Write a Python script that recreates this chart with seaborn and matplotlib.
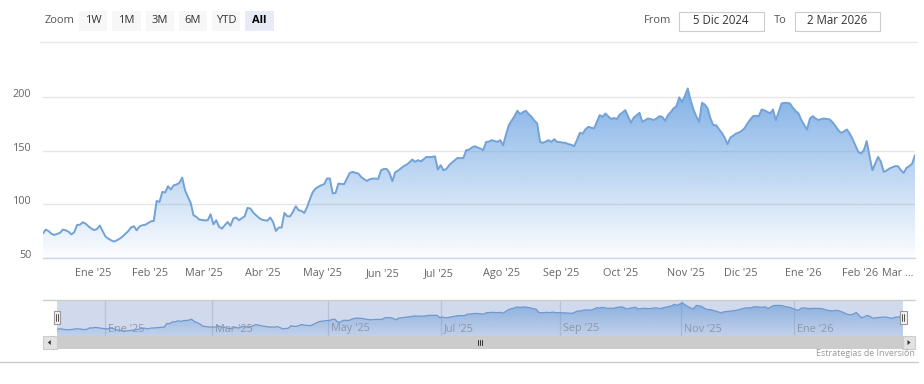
import numpy as np
import pandas as pd
import matplotlib
matplotlib.use("Agg")
import matplotlib.pyplot as plt
import seaborn as sns
from matplotlib.patches import Rectangle, Polygon
from matplotlib.lines import Line2D
from matplotlib.transforms import ScaledTranslation

# ---------------- data ----------------
fechas = [
    "2024-12-05", "2024-12-06", "2024-12-09", "2024-12-10", "2024-12-11", "2024-12-13", "2024-12-16",
    "2024-12-17", "2024-12-18", "2024-12-19", "2024-12-20", "2024-12-23", "2024-12-24", "2024-12-26",
    "2024-12-27", "2024-12-30", "2024-12-31",
    "2025-01-02", "2025-01-03", "2025-01-06", "2025-01-07", "2025-01-08", "2025-01-10", "2025-01-13",
    "2025-01-14", "2025-01-15", "2025-01-16", "2025-01-17", "2025-01-21", "2025-01-22", "2025-01-23",
    "2025-01-24", "2025-01-27", "2025-01-28", "2025-01-29", "2025-01-30", "2025-01-31",
    "2025-02-03", "2025-02-04", "2025-02-05", "2025-02-06", "2025-02-07", "2025-02-10", "2025-02-11",
    "2025-02-12", "2025-02-13", "2025-02-14", "2025-02-18", "2025-02-19", "2025-02-20", "2025-02-21",
    "2025-02-24", "2025-02-25", "2025-02-26", "2025-02-27", "2025-02-28",
    "2025-03-03", "2025-03-04", "2025-03-05", "2025-03-06", "2025-03-07", "2025-03-10", "2025-03-11",
    "2025-03-12", "2025-03-13", "2025-03-14", "2025-03-17", "2025-03-18", "2025-03-19", "2025-03-20",
    "2025-03-21", "2025-03-24", "2025-03-25", "2025-03-26", "2025-03-27", "2025-03-28", "2025-03-31",
    "2025-04-01", "2025-04-02", "2025-04-03", "2025-04-04", "2025-04-07", "2025-04-08", "2025-04-09",
    "2025-04-10", "2025-04-11", "2025-04-14", "2025-04-15", "2025-04-16", "2025-04-17", "2025-04-21",
    "2025-04-22", "2025-04-23", "2025-04-24", "2025-04-25", "2025-04-28", "2025-04-29", "2025-04-30",
    "2025-05-01", "2025-05-02", "2025-05-05", "2025-05-06", "2025-05-07", "2025-05-08", "2025-05-09",
    "2025-05-12", "2025-05-13", "2025-05-14", "2025-05-15", "2025-05-16", "2025-05-19", "2025-05-20",
    "2025-05-21", "2025-05-22", "2025-05-23", "2025-05-27", "2025-05-28", "2025-05-29", "2025-05-30",
    "2025-06-02", "2025-06-03", "2025-06-04", "2025-06-05", "2025-06-06", "2025-06-09", "2025-06-10",
    "2025-06-11", "2025-06-12", "2025-06-13", "2025-06-16", "2025-06-17", "2025-06-18", "2025-06-20",
    "2025-06-23", "2025-06-24", "2025-06-25", "2025-06-26", "2025-06-27", "2025-06-30",
    "2025-07-01", "2025-07-02", "2025-07-03", "2025-07-07", "2025-07-08", "2025-07-09", "2025-07-10",
    "2025-07-11", "2025-07-14", "2025-07-15", "2025-07-16", "2025-07-17", "2025-07-18", "2025-07-21",
    "2025-07-22", "2025-07-23", "2025-07-24", "2025-07-25", "2025-07-28", "2025-07-29", "2025-07-30",
    "2025-07-31",
    "2025-08-01", "2025-08-04", "2025-08-05", "2025-08-06", "2025-08-07", "2025-08-08", "2025-08-11",
    "2025-08-12", "2025-08-13", "2025-08-14", "2025-08-15", "2025-08-18", "2025-08-19", "2025-08-20",
    "2025-08-21", "2025-08-22", "2025-08-25", "2025-08-26", "2025-08-27", "2025-08-28", "2025-08-29",
    "2025-09-02", "2025-09-03", "2025-09-04", "2025-09-05", "2025-09-08", "2025-09-09", "2025-09-10",
    "2025-09-11", "2025-09-12", "2025-09-15", "2025-09-16", "2025-09-17", "2025-09-18", "2025-09-19",
    "2025-09-22", "2025-09-23", "2025-09-24", "2025-09-25", "2025-09-26", "2025-09-29", "2025-09-30",
    "2025-10-01", "2025-10-02", "2025-10-03", "2025-10-06", "2025-10-07", "2025-10-08", "2025-10-09",
    "2025-10-10", "2025-10-13", "2025-10-14", "2025-10-15", "2025-10-16", "2025-10-17", "2025-10-20",
    "2025-10-21", "2025-10-22", "2025-10-23", "2025-10-24", "2025-10-27", "2025-10-28", "2025-10-29",
    "2025-10-30", "2025-10-31",
    "2025-11-03", "2025-11-04", "2025-11-05", "2025-11-06", "2025-11-07", "2025-11-10", "2025-11-11",
    "2025-11-12", "2025-11-13", "2025-11-14", "2025-11-17", "2025-11-18", "2025-11-19", "2025-11-20",
    "2025-11-21", "2025-11-24", "2025-11-25", "2025-11-26", "2025-11-28",
    "2025-12-01", "2025-12-02", "2025-12-03", "2025-12-04", "2025-12-05", "2025-12-08", "2025-12-09",
    "2025-12-10", "2025-12-11", "2025-12-12", "2025-12-15", "2025-12-16", "2025-12-17", "2025-12-18",
    "2025-12-19", "2025-12-22", "2025-12-23", "2025-12-24", "2025-12-26", "2025-12-29", "2025-12-30",
    "2025-12-31",
    "2026-01-02", "2026-01-05", "2026-01-06", "2026-01-07", "2026-01-08", "2026-01-09", "2026-01-12",
    "2026-01-13", "2026-01-14", "2026-01-15", "2026-01-16", "2026-01-20", "2026-01-21", "2026-01-22",
    "2026-01-23", "2026-01-26", "2026-01-27", "2026-01-28", "2026-01-29", "2026-01-30",
    "2026-02-02", "2026-02-03", "2026-02-04", "2026-02-05", "2026-02-06", "2026-02-09", "2026-02-10",
    "2026-02-11", "2026-02-12", "2026-02-13", "2026-02-17", "2026-02-18", "2026-02-19", "2026-02-20",
    "2026-02-23", "2026-02-24", "2026-02-25", "2026-02-26", "2026-02-27",
    "2026-03-02",
]
precios = [
    73, 76.5, 75, 72.5, 71.5, 73.5, 76.5,
    75.8, 74.5, 72, 74, 80.8, 81, 83.3,
    82, 79.5, 77.5,
    76, 77, 80.3, 75, 70, 68, 66.5,
    65.3, 66.5, 68, 70, 72.5, 75, 78.5,
    79.6, 75.8, 79.5, 80.5, 81, 82.5,
    84.2, 84.5, 103.2, 102.2, 111.6, 111, 116.9,
    113.8, 117.8, 118.5, 120, 125, 113.2, 107,
    101.3, 89.8, 88.3, 85.8, 85.5,
    85, 85.2, 90.8, 81.4, 85.2, 79, 77.4,
    80.5, 83.6, 80, 86.8, 87.7, 85.2, 87,
    88.9, 96.7, 96.1, 92.5, 89.8, 87.5, 85.8,
    85.2, 84.8, 87.7, 83.6, 75.2, 78.4, 78.4,
    92, 88.9, 88.9, 93, 98.2, 94.5, 93.9,
    92, 97.6, 105, 111.6, 114.8, 116.5, 117.8,
    118.8, 124.1, 124.1, 110.1, 110.6, 119.4, 119,
    118.8, 124, 129.3, 130.2, 129.5, 128.7, 125.6,
    123.5, 121.8, 123.4, 124, 124, 123.7, 131.8,
    133, 133, 129.3, 121.6, 130, 131.5, 133.5,
    135.6, 137, 139, 141.8, 139.6, 141.2, 140,
    142, 144.2, 144, 144.2, 144.8, 132.5,
    136.5, 131.8, 133, 136.5, 139, 141.2, 143.3,
    143, 143.3, 150.5, 151, 153, 154.2, 153,
    152, 150.5, 158.2, 158.5, 159.8, 159, 158.2,
    159.8,
    155.1, 165, 173.8, 178, 182.2, 187.2, 184.1,
    186, 187.2, 184, 181.6, 178, 175.4, 158.2,
    157.3, 158.5, 159.8, 158.2, 160.7, 158.2, 158,
    157.5, 157.3, 156.1, 155.5, 154.2, 160, 166.6,
    166, 170, 172.2, 171.5, 170.7, 177, 183.1,
    181.6, 184.7, 182, 179.5, 180.5, 179.5, 183.5,
    185.5, 187.8, 182, 176, 181, 183, 185.3,
    176.9, 178.5, 180, 179.5, 178.5, 180, 182.2,
    181.6, 177.8, 183, 186, 189.4, 191.5, 199.7,
    195.5, 201,
    208, 197.1, 188.4, 182, 176.9, 194.6, 193,
    189.4, 180, 173.8, 173.8, 170, 166.6, 162,
    156.1, 162.3, 164, 166, 167,
    168.5, 171, 175.4, 179, 182.2, 182.5, 182.2,
    188.4, 187.5, 186.2, 184.7, 188.4, 178.5, 186,
    194, 194.6, 194.6, 194, 190, 187, 184.7,
    178.5,
    174, 169.8, 180, 182.2, 180, 178.5, 179.5,
    180, 179.5, 179.1, 176.5, 172.9, 169, 166.6,
    168, 169.8, 166, 161, 155.1, 149,
    147.4, 150.5, 158.9, 145, 131.8, 138, 144.2,
    139.6, 130.2, 131.5, 133.4, 134.5, 135.6, 135.6,
    132, 129.3, 134, 135.6, 138,
    145.8,
]

ticks_meses = ["2025-01-01", "2025-02-01", "2025-03-01", "2025-04-01", "2025-05-01", "2025-06-01",
               "2025-07-01", "2025-08-01", "2025-09-01", "2025-10-01", "2025-11-01", "2025-12-01",
               "2026-01-01", "2026-02-01", "2026-03-01"]
etiquetas_meses = ["Ene '25", "Feb '25", "Mar '25", "Abr '25", "May '25", "Jun '25", "Jul '25",
                   "Ago '25", "Sep '25", "Oct '25", "Nov '25", "Dic '25", "Ene '26", "Feb '26",
                   "Mar \u2026"]
ticks_nav = ["2025-01-01", "2025-03-01", "2025-05-01", "2025-07-01", "2025-09-01", "2025-11-01",
             "2026-01-01"]
etiquetas_nav = ["Ene '25", "Mar '25", "May '25", "Jul '25", "Sep '25", "Nov '25", "Ene '26"]
ticks_y = [50, 100, 150, 200]
botones = ["1W", "1M", "3M", "6M", "YTD", "All"]
boton_activo = "All"
texto_desde = "5 Dic 2024"
texto_hasta = "2 Mar 2026"
credito = "Estrategias de Inversi\u00f3n"
festivos = ["2024-12-25", "2025-01-01", "2025-01-09", "2025-01-20", "2025-02-17", "2025-04-18",
            "2025-05-26", "2025-06-19", "2025-07-04", "2025-09-01", "2025-11-27", "2025-12-25",
            "2026-01-01", "2026-01-19", "2026-02-16"]

# ---------------- style ----------------
sns.set_style("white")
plt.rcParams["font.family"] = ["Open Sans", "DejaVu Sans"]

LINE = "#72a2d6"
FILL_RGB = (86, 150, 222)
AXIS_COL = "#ccd6eb"
GRID_COL = "#e6e6e6"
LABEL_COL = "#666666"

W, H = 924, 384
fig = plt.figure(figsize=(W / 100, H / 100), dpi=100)


def rect(l, t, r, b):
    return [l / W, 1 - b / H, (r - l) / W, (b - t) / H]


inicio = fechas[0]


def ordinal(d):
    # ordinal (trading-day) axis like Highstock
    return float(np.busday_count(inicio, d, holidays=festivos))


xs = np.array([ordinal(d) for d in fechas])
ys = np.array(precios, dtype=float)
xmax = xs[-1]
df = pd.DataFrame({"pos": xs, "precio": ys})


def gradient_area(ax, base, a_top, a_bot, z):
    verts = np.column_stack([np.r_[xs[0], xs, xs[-1]], np.r_[base, ys, base]])
    poly = Polygon(verts, closed=True, fc="none", ec="none")
    ax.add_patch(poly)
    n = 256
    t = np.linspace(0, 1, n)
    img = np.zeros((n, 2, 4))
    img[:, :, 0] = FILL_RGB[0] / 255
    img[:, :, 1] = FILL_RGB[1] / 255
    img[:, :, 2] = FILL_RGB[2] / 255
    img[:, :, 3] = (a_bot + (a_top - a_bot) * t)[:, None]
    im = ax.imshow(img, extent=[xs[0], xs[-1], base, ys.max()], origin="lower",
                   aspect="auto", zorder=z, interpolation="bilinear")
    im.set_clip_path(poly)


# ---------------- main chart ----------------
ax = fig.add_axes(rect(43, 45, 915, 258))
ax.set_facecolor("white")
ax.yaxis.grid(True, color=GRID_COL, lw=1)
ax.xaxis.grid(False)
ax.set_axisbelow(True)
gradient_area(ax, 50, 0.75, 0.02, 1)
sns.lineplot(data=df, x="pos", y="precio", ax=ax, color=LINE, linewidth=1.4, zorder=3)
ax.set_xlim(0, xmax)
ax.set_ylim(50, 248.5)
ax.set_xlabel("")
ax.set_ylabel("")
for s in ["top", "right", "left"]:
    ax.spines[s].set_visible(False)
ax.spines["bottom"].set_color(AXIS_COL)
ax.spines["bottom"].set_linewidth(1)

ax.set_yticks(ticks_y)
ax.set_yticklabels([str(v) for v in ticks_y], va="baseline")
for lab in ax.get_yticklabels():
    lab.set_transform(lab.get_transform() + ScaledTranslation(0, 2.5 / 100, fig.dpi_scale_trans))
ax.tick_params(axis="y", length=0, pad=8.5, labelsize=7.8, labelcolor=LABEL_COL)

ax.set_xticks([ordinal(d) - 0.5 for d in ticks_meses])
ax.set_xticklabels(etiquetas_meses)
ax.tick_params(axis="x", length=3.8, width=1, color=AXIS_COL, labelsize=7.8,
               labelcolor=LABEL_COL, pad=3.2)
ax.get_xticklabels()[-1].set_horizontalalignment("right")

# ---------------- navigator ----------------
nav = fig.add_axes(rect(56.5, 300, 903, 336))
nav.set_facecolor("white")
for p in [ordinal(d) - 0.5 for d in ticks_nav]:
    nav.axvline(p, color="#dddddd", lw=0.9, zorder=0.5)
gradient_area(nav, 40, 0.6, 0.12, 1)
sns.lineplot(data=df, x="pos", y="precio", ax=nav, color=LINE, linewidth=0.9, zorder=3)
nav.axvspan(0, xmax, color=(102 / 255, 133 / 255, 194 / 255), alpha=0.3, lw=0, zorder=4)
nav.set_xlim(0, xmax)
nav.set_ylim(40, 222)
nav.set_xticks([])
nav.set_yticks([])
nav.set_xlabel("")
nav.set_ylabel("")
for s in nav.spines.values():
    s.set_visible(False)
px_per_unit = (903 - 56.5) / xmax
for p, lab in zip([ordinal(d) - 0.5 for d in ticks_nav], etiquetas_nav):
    nav.text(p + 3 / px_per_unit, (336 - 329) / 36, lab, transform=nav.get_xaxis_transform(),
             ha="left", va="center", fontsize=7.8, color="#8d96ab", zorder=5)

# ---------------- UI overlay (range selector, scrollbar, credits) ----------------
ui = fig.add_axes([0, 0, 1, 1])
ui.set_xlim(0, W)
ui.set_ylim(H, 0)
ui.axis("off")

ui.text(44.5, 20.5, "Zoom", ha="left", va="center", fontsize=8, color="#555555")
bx0, bw, bstep = 79, 28.3, 33.25
for i, b in enumerate(botones):
    l = bx0 + i * bstep
    activo = b == boton_activo
    ui.add_patch(Rectangle((l, 10.5), bw, 20, fc="#e6ebf5" if activo else "#f7f7f7", ec="none"))
    ui.text(l + bw / 2, 20.8, b, ha="center", va="center", fontsize=8,
            color="#000000" if activo else "#333333", fontweight="bold" if activo else "normal")

ui.text(658, 20.5, "From", ha="center", va="center", fontsize=8, color="#555555")
ui.add_patch(Rectangle((678.5, 11.5), 85, 19, fc="white", ec="#cccccc", lw=0.8))
ui.text(721, 21, texto_desde, ha="center", va="center", fontsize=8.3, color="#333333")
ui.text(780.5, 20.5, "To", ha="center", va="center", fontsize=8, color="#555555")
ui.add_patch(Rectangle((794.5, 11.5), 85, 19, fc="white", ec="#cccccc", lw=0.8))
ui.text(837, 21, texto_hasta, ha="center", va="center", fontsize=8.3, color="#333333")

ui.add_line(Line2D([40, 917], [41.5, 41.5], color="#e9e9e9", lw=1))

# navigator outline
ui.add_line(Line2D([43, 915], [300, 300], color="#cccccc", lw=1))

# handles
for hx in (53.5, 900):
    ui.add_patch(Rectangle((hx, 311), 6.5, 12.5, fc="#f2f2f2", ec="#999999", lw=0.8, zorder=6))
    for dx in (2.4, 4.1):
        ui.add_line(Line2D([hx + dx, hx + dx], [314, 320.5], color="#333333", lw=0.6, zorder=7))

# scrollbar
ui.add_patch(Rectangle((43, 336), 872, 13, fc="#f2f2f2", ec="none"))
ui.add_patch(Rectangle((56.5, 336), 846.5, 13, fc="#cccccc", ec="none"))
ui.add_patch(Rectangle((43, 336), 13.5, 13, fc="#e2e2e2", ec="#cccccc", lw=0.8))
ui.add_patch(Rectangle((903, 336), 12, 13, fc="#e2e2e2", ec="#cccccc", lw=0.8))
ui.add_patch(Polygon([(47.8, 342.5), (50.8, 340), (50.8, 345)], closed=True, fc="#333333", ec="none"))
ui.add_patch(Polygon([(910.5, 342.5), (907.5, 340), (907.5, 345)], closed=True, fc="#333333", ec="none"))
for gx in (477.5, 479.8, 482.1):
    ui.add_line(Line2D([gx, gx], [339.5, 345], color="#333333", lw=0.7))

# bottom line + credits
ui.add_line(Line2D([0, 918], [362, 362], color="#cccccc", lw=1))
ui.text(915, 354, credito, ha="right", va="center", fontsize=6.4, color="#999999")

fig.savefig("out.png", dpi=100)
